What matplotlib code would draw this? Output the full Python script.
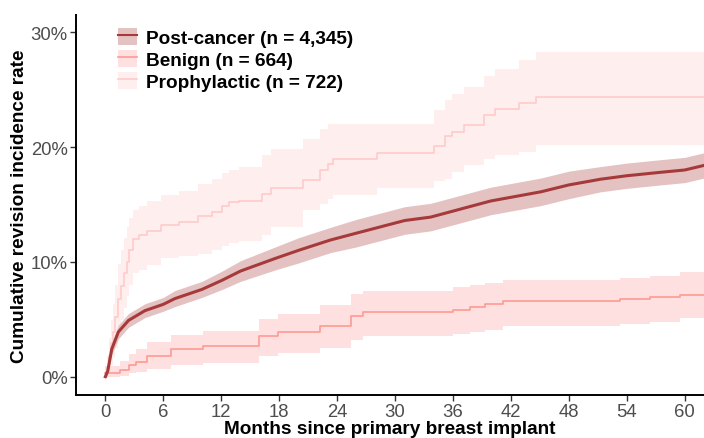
import matplotlib
matplotlib.use("Agg")
import matplotlib.pyplot as plt
from matplotlib.patches import Patch
from matplotlib.lines import Line2D
from matplotlib.ticker import FuncFormatter

plt.rcParams['font.family'] = ['Liberation Sans', 'DejaVu Sans']

# ---- data (months, cumulative incidence %) ----
post_t = [0, 0.25, 0.66, 1.35, 2.4, 4.1, 6, 7.2, 10, 12.1, 14, 17.6, 20, 23.3, 26, 28.5,
          31, 33.7, 36.8, 39.9, 45.1, 48, 51.3, 54, 57.5, 60, 62]
post_est = [0, 0.5, 2.4, 3.9, 4.9, 5.75, 6.3, 6.8, 7.6, 8.4, 9.2, 10.3, 11.0, 11.9, 12.5, 13.05,
            13.6, 13.9, 14.6, 15.3, 16.1, 16.7, 17.2, 17.5, 17.8, 18.0, 18.4]
post_lo = [0, 0.2, 1.9, 3.3, 4.3, 5.15, 5.7, 6.1, 6.9, 7.6, 8.3, 9.3, 9.9, 10.8, 11.3, 11.85,
           12.4, 12.7, 13.4, 14.1, 14.9, 15.5, 16.1, 16.4, 16.7, 16.9, 17.3]
post_hi = [0, 0.8, 2.9, 4.5, 5.5, 6.35, 6.9, 7.5, 8.3, 9.2, 10.1, 11.3, 12.1, 13.0, 13.7, 14.25,
           14.8, 15.1, 15.8, 16.5, 17.3, 17.9, 18.3, 18.6, 18.9, 19.1, 19.5]

benign_t = [0, 1.5, 2.5, 3.2, 4.3, 6.8, 10.1, 15.9, 17.9, 22.2, 25.4, 26.7, 36.0, 37.8, 39.3,
            41.2, 53.3, 56.4, 59.5, 62]
benign_est = [0.3, 0.6, 1.0, 1.3, 1.8, 2.4, 2.7, 3.5, 3.9, 4.45, 5.3, 5.6, 5.85, 6.05, 6.3,
              6.6, 6.8, 6.9, 7.1, 7.1]
benign_lo = [0, 0.05, 0.3, 0.45, 0.7, 1.0, 1.2, 1.8, 2.1, 2.5, 3.2, 3.5, 3.7, 3.9, 4.1,
             4.45, 4.6, 4.8, 5.1, 5.1]
benign_hi = [0.9, 1.4, 2.0, 2.4, 3.0, 3.6, 4.0, 5.0, 5.5, 6.2, 7.2, 7.5, 7.8, 8.0, 8.2,
             8.4, 8.6, 8.8, 9.1, 9.1]

proph_t = [0, 0.2, 0.4, 0.6, 0.83, 1.05, 1.35, 1.6, 1.9, 2.2, 2.5, 2.9, 3.5, 4.3, 5.8, 7.6, 9.6,
           11, 12.1, 12.8, 13.8, 16.2, 17.2, 20.5, 22.2, 23.1, 23.6, 28.1, 34.0, 35.2, 35.9,
           37.1, 39.2, 40.4, 42.8, 44.6, 62]
proph_est = [0, 0.8, 1.8, 2.9, 3.9, 5.2, 6.8, 7.9, 9.0, 10.0, 11.0, 12.0, 12.3, 12.7, 13.2, 13.5,
             14.0, 14.3, 14.9, 15.2, 15.3, 15.9, 16.4, 17.1, 18.0, 18.5, 19.0, 19.5, 20.1, 21.0,
             21.3, 21.9, 22.8, 23.3, 23.8, 24.4, 24.4]
proph_lo = [0, 0.1, 0.5, 1.0, 1.6, 2.5, 3.8, 4.9, 6.0, 7.0, 8.0, 9.0, 9.3, 9.7, 10.3, 10.5,
            10.7, 11.0, 11.4, 11.6, 11.8, 12.3, 13.0, 14.5, 15.0, 15.5, 15.8, 16.4, 17.0, 17.2,
            17.8, 18.4, 19.0, 19.3, 19.6, 20.2, 20.2]
proph_hi = [0, 1.8, 3.4, 4.9, 6.3, 8.0, 9.8, 11.0, 12.1, 13.0, 13.8, 14.5, 14.9, 15.3, 15.8, 16.2,
            16.8, 17.2, 17.7, 18.0, 18.3, 19.3, 19.8, 20.7, 21.6, 22.0, 22.0, 22.0, 23.2, 24.1,
            24.6, 25.2, 26.2, 26.8, 27.6, 28.3, 28.3]

labels = ["Post-cancer (n = 4,345)", "Benign (n = 664)", "Prophylactic (n = 722)"]
x_ticks = [0, 6, 12, 18, 24, 30, 36, 42, 48, 54, 60]
y_ticks = [0, 10, 20, 30]

line_cols = ["#A63A3A", "#FF9A92", "#FFCACA"]
band_cols = ["#E4C2C2", "#FFE0E0", "#FFEEEE"]

W, H = 704, 439
fig = plt.figure(figsize=(W / 100, H / 100), dpi=100)
ax = fig.add_axes([76 / W, 1 - 395.7 / H, (704 - 76) / W, (395.7 - 16) / H])

series = [
    (post_t, post_est, post_lo, post_hi, False, 2.2),
    (benign_t, benign_est, benign_lo, benign_hi, True, 1.2),
    (proph_t, proph_est, proph_lo, proph_hi, True, 1.2),
]
for i in [2, 1, 0]:
    t, est, lo, hi, step, lw = series[i]
    if step:
        ax.fill_between(t, lo, hi, step='post', color=band_cols[i], lw=0, zorder=1 + (2 - i) * 0.1)
    else:
        ax.fill_between(t, lo, hi, color=band_cols[i], lw=0, zorder=1 + (2 - i) * 0.1)
for i in [2, 1, 0]:
    t, est, lo, hi, step, lw = series[i]
    if step:
        ax.step(t, est, where='post', color=line_cols[i], lw=lw, zorder=3)
    else:
        ax.plot(t, est, color=line_cols[i], lw=lw, zorder=3)

ax.set_xlim(-3.04, 62.0)
ax.set_ylim(-1.57, 31.5)
ax.set_xticks(x_ticks)
ax.set_yticks(y_ticks)
ax.yaxis.set_major_formatter(FuncFormatter(lambda v, p: f"{v:.0f}%"))
for s in ["top", "right"]:
    ax.spines[s].set_visible(False)
for s in ["left", "bottom"]:
    ax.spines[s].set_linewidth(1.4)
    ax.spines[s].set_color("black")
ax.tick_params(axis='both', length=4, width=1.0, color="#333333", labelcolor="#4D4D4D",
               labelsize=13.3, pad=2)
ax.set_xlabel("Months since primary breast implant", fontsize=13.7, fontweight='bold',
              labelpad=0)
ax.set_ylabel("Cumulative revision incidence rate", fontsize=13.7, fontweight='bold',
              labelpad=2)

handles = []
for i in range(3):
    handles.append((Patch(facecolor=band_cols[i], edgecolor='none'),
                    Line2D([0], [0], color=line_cols[i], lw=1.5 if i == 0 else 1.2)))
leg = ax.legend(handles, labels, loc='upper left', bbox_to_anchor=(114 / W, 1 - 25 / H),
                bbox_transform=fig.transFigure, frameon=False,
                prop={'weight': 'bold', 'size': 13.7}, handlelength=1.0, handleheight=1.0,
                handletextpad=0.5, labelspacing=0.15, borderaxespad=0, borderpad=0.2)
fig.savefig("out.png", dpi=100)
